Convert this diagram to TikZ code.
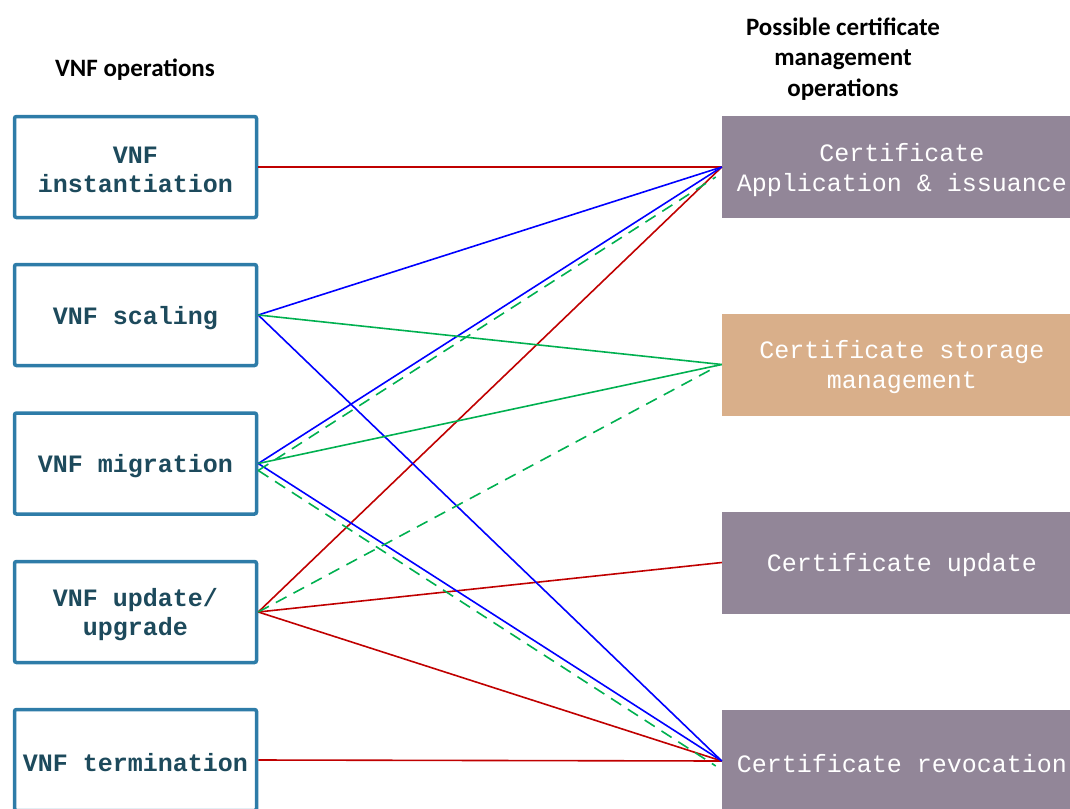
\documentclass[tikz,border=0pt]{standalone}
\usepackage{fontspec}
\setmainfont{Carlito}
\setmonofont{Liberation Mono}
\definecolor{boxblue}{HTML}{2E7CA8}
\definecolor{optext}{HTML}{1D4A5C}
\definecolor{certpurple}{HTML}{928698}
\definecolor{certtan}{HTML}{D9AF8A}
\definecolor{linkred}{HTML}{C00000}
\definecolor{linkblue}{HTML}{0000FF}
\definecolor{linkgreen}{HTML}{00B050}
\begin{document}
\begin{tikzpicture}[x=1pt,y=-1pt,
  opbox/.style={draw=boxblue, line width=3.5pt, rounded corners=2pt, fill=white,
    minimum width=242pt, minimum height=101pt, inner sep=0pt},
  optxt/.style={align=center, inner sep=0pt, yshift=-3pt,
    font=\ttfamily\bfseries\fontsize{25}{29}\selectfont, text=optext},
  certbox/.style={fill=#1, minimum width=360pt, minimum height=102pt, inner sep=0pt},
  certtxt/.style={align=center, inner sep=0pt, yshift=-3pt,
    font=\ttfamily\fontsize{25}{30}\selectfont, text=white},
  header/.style={font=\bfseries\fontsize{25}{30.5}\selectfont, align=center},
  link/.style={line width=1.6pt, draw=#1},
  dlink/.style={line width=1.6pt, draw=linkgreen, dash pattern=on 12pt off 8pt}]
\useasboundingbox (0,0) rectangle (1070,808);
\clip (0,0) rectangle (1070,808);

% column headers
\node[header] (hleft) at (135,70) {VNF operations};
\node[header] (hright) at (843,59) {Possible certificate\\management\\operations};

% VNF operations
\node[opbox, label={[optxt]center:{VNF\\instantiation}}] (inst) at (135.5,167) {};
\node[opbox, label={[optxt]center:{VNF scaling}}] (scal) at (135.5,315) {};
\node[opbox, label={[optxt]center:{VNF migration}}] (migr) at (135.5,463.5) {};
\node[opbox, label={[optxt]center:{VNF update/\\upgrade}}] (upd) at (135.5,612) {};
\node[opbox, label={[optxt]center:{VNF termination}}] (term) at (135.5,760) {};

% certificate management operations
\node[certbox=certpurple, label={[certtxt]center:{Certificate\\Application \& issuance}}] (app) at (902,167) {};
\node[certbox=certtan, label={[certtxt]center:{Certificate storage\\management}}] (sto) at (902,364.5) {};
\node[certbox=certpurple, label={[certtxt]center:{Certificate update}}] (cup) at (902,562.5) {};
\node[certbox=certpurple, label={[certtxt]center:{Certificate revocation}}] (rev) at (902,761) {};

% red links
\draw[link=linkred] (inst.east) -- (app.west);
\draw[link=linkred] (upd.east) -- (app.west);
\draw[link=linkred] (upd.east) -- (cup.west);
\draw[link=linkred] (upd.east) -- (rev.west);
\draw[link=linkred] (term.east) -- (rev.west);

% blue links
\draw[link=linkblue] (scal.east) -- (app.west);
\draw[link=linkblue] (scal.east) -- (rev.west);
\draw[link=linkblue] (migr.east) -- (app.west);
\draw[link=linkblue] (migr.east) -- (rev.west);

% green links
\draw[link=linkgreen] (scal.east) -- (sto.west);
\draw[link=linkgreen] (migr.east) -- (sto.west);

% dashed green links
\draw[dlink] ([yshift=-7pt]migr.east) -- ([shift={(-6pt,-10pt)}]app.west);
\draw[dlink] ([yshift=-7pt]migr.east) -- ([shift={(-6pt,-5pt)}]rev.west);
\draw[dlink] (upd.east) -- ([shift={(-5pt,-2pt)}]sto.west);
\end{tikzpicture}
\end{document}
